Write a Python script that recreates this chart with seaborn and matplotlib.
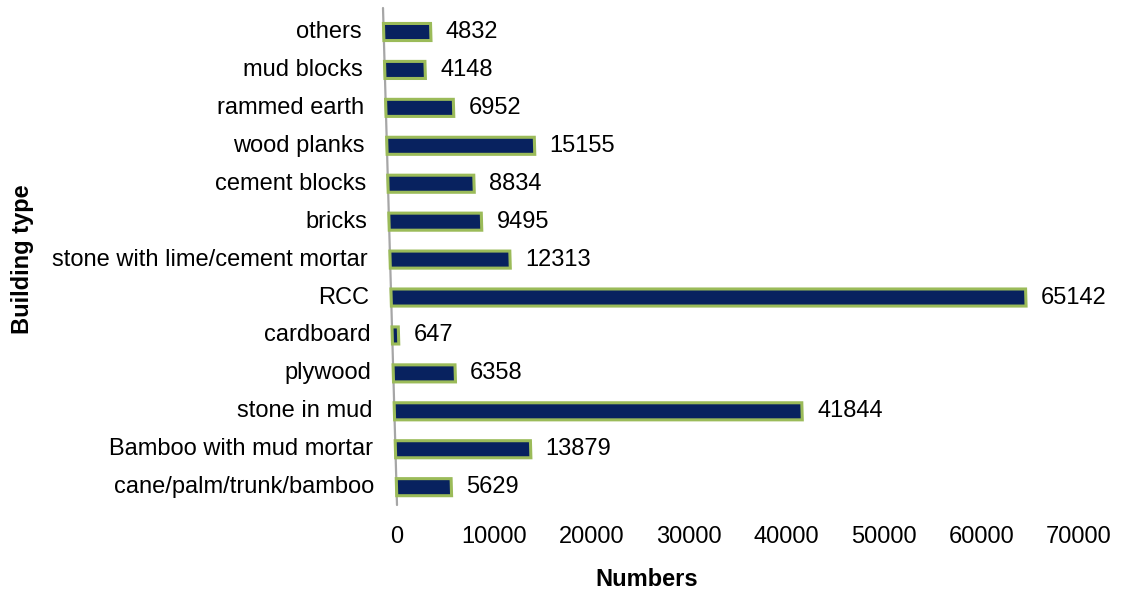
import math
import matplotlib
matplotlib.use("Agg")
import matplotlib.pyplot as plt
import matplotlib.transforms as mtransforms
import seaborn as sns
import pandas as pd

building_types = [
    "others", "mud blocks", "rammed earth", "wood planks", "cement blocks",
    "bricks", "stone with lime/cement mortar", "RCC", "cardboard", "plywood",
    "stone in mud", "Bamboo with mud mortar", "cane/palm/trunk/bamboo",
]
counts = [4832, 4148, 6952, 15155, 8834, 9495, 12313, 65142, 647, 6358,
          41844, 13879, 5629]
x_ticks = [0, 10000, 20000, 30000, 40000, 50000, 60000, 70000]

sns.set_style("white")
plt.rcParams["font.family"] = ["Liberation Sans", "DejaVu Sans"]
plt.rcParams["text.color"] = "black"
plt.rcParams["axes.labelcolor"] = "black"
plt.rcParams["xtick.color"] = "black"

W, H, DPI = 1126, 595, 100
fig = plt.figure(figsize=(W / DPI, H / DPI), dpi=DPI)

# plot area in pixels: x 397..1079, y 8..505 (from top)
left, right, top, bottom = 397, 1079, 8, 505
ax = fig.add_axes([left / W, (H - bottom) / H, (right - left) / W, (bottom - top) / H])

df = pd.DataFrame({"type": building_types, "count": counts})
sns.barplot(data=df, x="count", y="type", orient="h", color="#08225F",
            edgecolor="#9BBB59", linewidth=2.2, width=0.45, ax=ax,
            saturation=1)

ax.set_xlim(0, 70000)
ax.set_ylim(12.47, -0.633)
for s in ax.spines.values():
    s.set_visible(False)

# perspective lean: everything on the category axis leans left going up
k = 14.0 / (bottom - top)
y0 = H - bottom
lean = mtransforms.Affine2D.from_values(1, 0, -k, 1, k * y0, 0)
data_lean = ax.transData + lean

for p in ax.patches:
    p.set_transform(data_lean)
    p.set_clip_on(False)

# slanted category axis line
ax.plot([0, 0], [12.47, -0.633], color="#A6A6A6", lw=1.6,
        transform=data_lean, clip_on=False, zorder=0.5)

fs = 17
# value labels beside each bar
val_tr = ax.transData + mtransforms.Affine2D().translate(15, 0) + lean
for i, v in enumerate(counts):
    ax.text(v, i, f"{v}", transform=val_tr, ha="left", va="center",
            fontsize=fs, color="black", clip_on=False)

# category labels following the slanted axis
cat_tr = ax.transData + mtransforms.Affine2D().translate(-22, 0) + lean
ax.set_yticks([])
ax.set_ylabel("")
for i, name in enumerate(building_types):
    ax.text(0, i, name, transform=cat_tr, ha="right", va="center",
            fontsize=fs, color="black", clip_on=False)

ax.set_xticks(x_ticks)
ax.set_xticklabels([str(t) for t in x_ticks], fontsize=fs, color="black")
ax.tick_params(axis="x", length=0, pad=15)

ax.set_xlabel("Numbers", fontsize=fs, fontweight="bold", color="black")
ax.xaxis.set_label_coords((647 - left) / (right - left), (bottom - 580) / (bottom - top))
ax.set_ylabel("Building type", fontsize=fs, fontweight="bold", color="black")
ax.yaxis.set_label_coords((22 - left) / (right - left), (bottom - 259) / (bottom - top))
ax.yaxis.label.set_va("center")
ax.xaxis.label.set_va("center")

fig.savefig("out.png", dpi=DPI)
